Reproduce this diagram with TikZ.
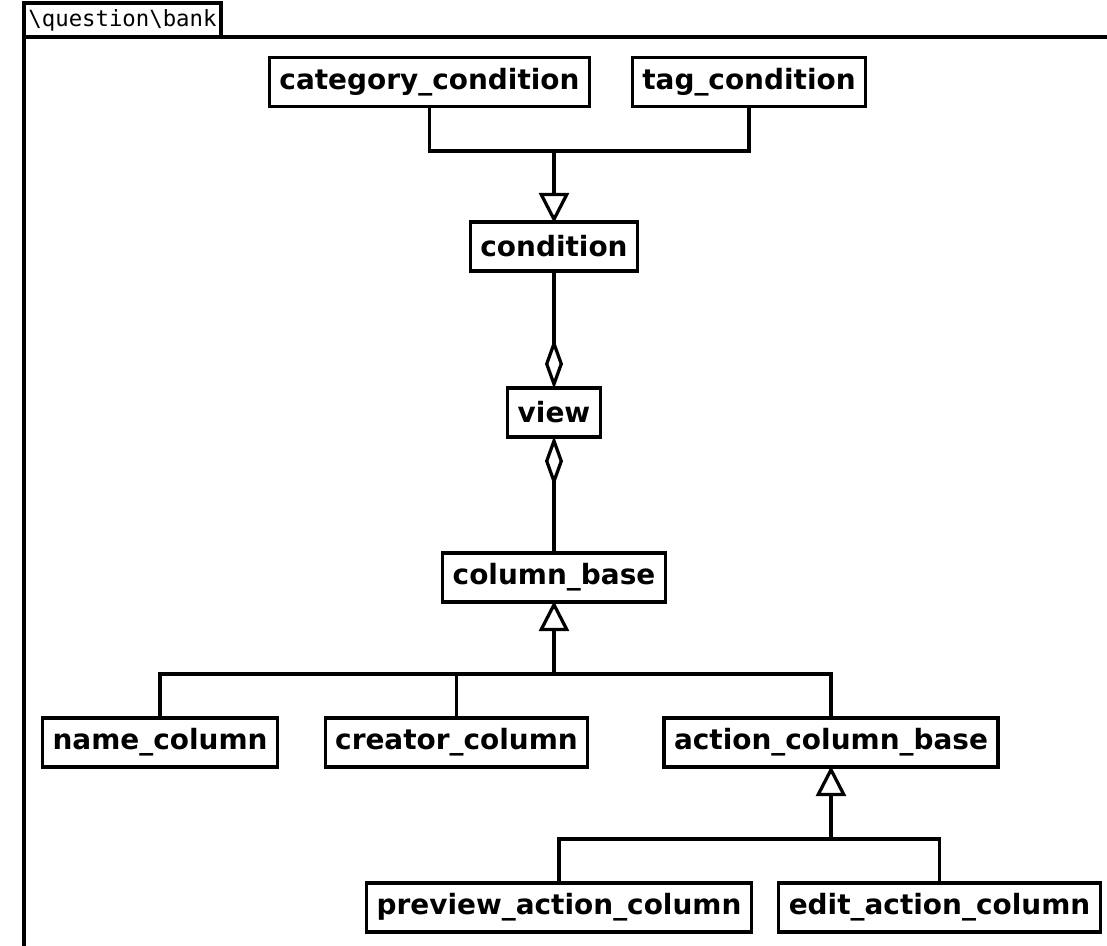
\documentclass[tikz,border=0pt]{standalone}
\usepackage{fontspec}
\setmainfont{DejaVu Sans}
\setmonofont{DejaVu Sans Mono}
\usetikzlibrary{arrows.meta, positioning}
\tikzset{
    classbox/.style = {
        rectangle, draw, line width=0.065cm,
        minimum height=0.98cm,
        inner xsep=0.2cm,
        font=\fontsize{15.9}{19}\selectfont\bfseries
    },
    link/.style = {
        line width=0.065cm
    },
    inherit/.style = {
        -{Triangle[open, length=0.6cm, width=0.6cm]}, line width=0.065cm,
        shorten >=-0.05cm
    },
    aggreg/.style = {
        -{Diamond[open, length=1cm, width=0.36cm]}, line width=0.065cm,
        shorten >=-0.05cm
    }
}
\begin{document}
\begin{tikzpicture}[x=0.02cm, y=-0.02cm]
\useasboundingbox (0,0) rectangle (1107,946);

% package frame
\begin{scope}
\clip (0,0) rectangle (1107,946);
\draw[line width=0.065cm] (24,37) rectangle (1130,970);
\draw[line width=0.065cm] (24,3) rectangle (221,37);
\end{scope}
\node (pkg) at (122.5,20) {\fontsize{12.7}{15}\selectfont\ttfamily \textbackslash question\textbackslash bank};

% classes
\node (catc) [classbox] at (429.5,82) {category\_condition};
\node (tagc) [classbox] at (749,82) {tag\_condition};
\node (cond) [classbox] at (554,246.5) {condition};
\node (view) [classbox] at (554,412.5) {view};
\node (colbase) [classbox] at (554,577.5) {column\_base};
\node (namecol) [classbox] at (160,742.5) {name\_column};
\node (creatorcol) [classbox] at (456.5,742.5) {creator\_column};
\node (actbase) [classbox] at (831,742.5) {action\_column\_base};
\node (prevcol) [classbox] at (559,907.5) {preview\_action\_column};
\node (editcol) [classbox] at (939.5,907.5) {edit\_action\_column};

\coordinate (j1) at (554,151);
\coordinate (j2) at (554,674);
\coordinate (j3) at (831,839);

% generalisation
\draw [link] (catc.south) |- (j1) -| (tagc.south);
\draw [inherit] (j1) -- (cond.north);
\draw [link] (namecol.north) |- (j2) -| (actbase.north);
\draw [link] (creatorcol.north) |- (j2);
\draw [inherit] (j2) -- (colbase.south);
\draw [link] (prevcol.north) |- (j3) -| (editcol.north);
\draw [inherit] (j3) -- (actbase.south);

% aggregation
\draw [aggreg] (cond.south) -- (view.north);
\draw [aggreg] (colbase.north) -- (view.south);

\end{tikzpicture}
\end{document}
